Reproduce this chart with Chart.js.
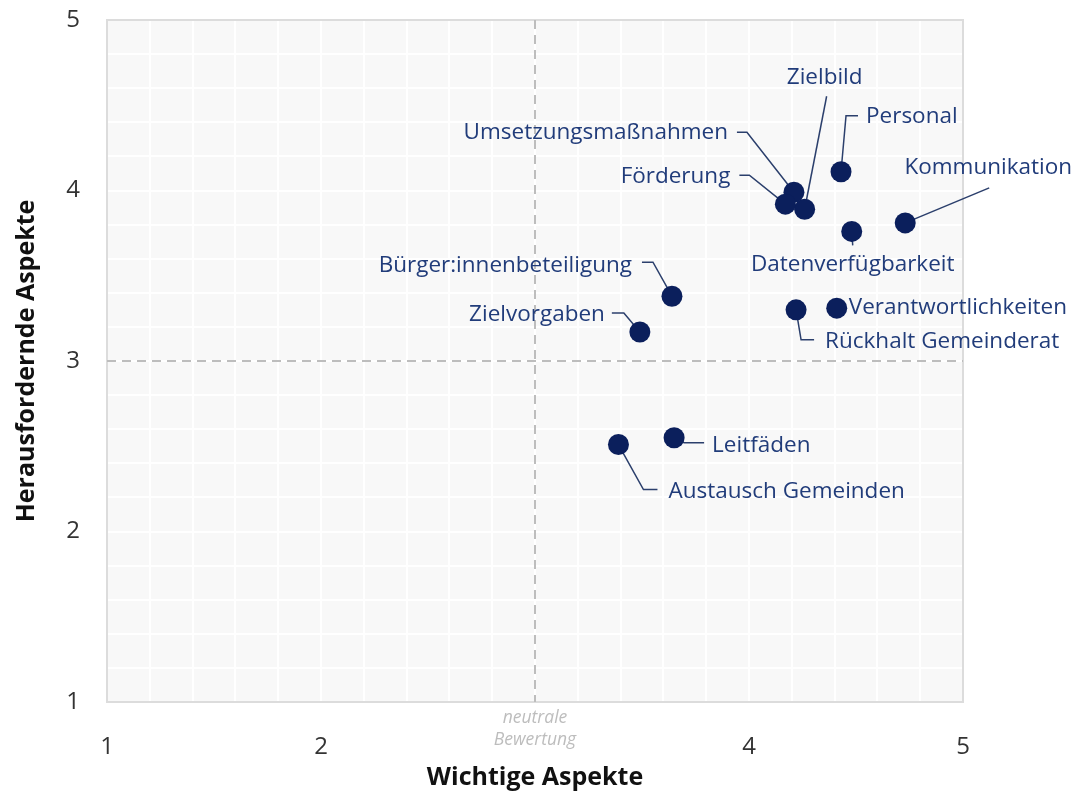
<!DOCTYPE html>
<html><head><meta charset="utf-8">
<script src="https://cdn.jsdelivr.net/npm/chart.js@4/dist/chart.umd.min.js"></script>
<style>html,body{margin:0;padding:0;background:#fff}</style>
</head><body>
<canvas id="c" width="1078" height="795"></canvas>
<script>
// ---- data ----
const aspects = ['Zielbild','Personal','Umsetzungsmaßnahmen','Förderung','Kommunikation','Datenverfügbarkeit','Bürger:innenbeteiligung','Zielvorgaben','Verantwortlichkeiten','Rückhalt Gemeinderat','Leitfäden','Austausch Gemeinden'];
const importance = [4.26, 4.43, 4.21, 4.17, 4.73, 4.48, 3.64, 3.49, 4.41, 4.22, 3.65, 3.39];
const challenge  = [3.89, 4.11, 3.99, 3.92, 3.81, 3.76, 3.38, 3.17, 3.31, 3.30, 2.55, 2.51];
const xTickLabels = {1:'1', 2:'2', 3:'', 4:'4', 5:'5'};
const yTickLabels = {1:'1', 2:'2', 3:'3', 4:'4', 5:'5'};
const neutralValue = 3;
const neutralText = ['neutrale', 'Bewertung'];
const xTitle = 'Wichtige Aspekte';
const yTitle = 'Herausfordernde Aspekte';

// label layout (pixel offsets relative to each point): leader polyline + text anchor
const labelLayout = [
  {lead:[[0,0],[22,-113]], t:[20,-132], a:'center'},
  {lead:[[0,0],[5,-56],[17,-56]], t:[25,-55], a:'left'},
  {lead:[[0,0],[-47,-60],[-57,-60]], t:[-66,-60], a:'right'},
  {lead:[[0,0],[-36,-29],[-46,-29]], t:[-55,-28], a:'right'},
  {lead:[[0,0],[84,-35]], t:[83,-55], a:'center'},
  {lead:[[0,0],[1,14]], t:[1,33], a:'center'},
  {lead:[[0,0],[-19,-34],[-30,-34]], t:[-40,-31], a:'right'},
  {lead:[[0,0],[-16,-19],[-28,-19]], t:[-35,-17], a:'right'},
  {lead:null, t:[12,-1], a:'left'},
  {lead:[[0,0],[5,30],[18,30]], t:[29,32], a:'left'},
  {lead:[[0,0],[10,5],[30,5]], t:[38,8], a:'left'},
  {lead:[[0,0],[25,45],[39,45]], t:[50,47], a:'left'}
];

const FONT = "'Open Sans', 'Noto Sans', sans-serif";
const POINT_COLOR = '#0b1f5c';
const LABEL_COLOR = '#213c7a';
const LEADER_COLOR = '#2b3f6c';

const isInt = v => Math.abs(v - Math.round(v)) < 1e-6;

const decor = {
  id: 'decor',
  beforeDraw(chart) {
    const {ctx, chartArea: a} = chart;
    ctx.save();
    ctx.fillStyle = '#f8f8f8';
    ctx.fillRect(a.left, a.top, a.right - a.left, a.bottom - a.top);
    ctx.restore();
  },
  beforeDatasetsDraw(chart) {
    const {ctx, chartArea: a, scales: {x, y}} = chart;
    ctx.save();
    ctx.strokeStyle = '#dcdcdc';
    ctx.lineWidth = 2;
    ctx.strokeRect(a.left, a.top, a.right - a.left, a.bottom - a.top);
    ctx.strokeStyle = '#bdbdbd';
    ctx.lineWidth = 2;
    ctx.setLineDash([9, 6]);
    const nx = x.getPixelForValue(neutralValue);
    const ny = y.getPixelForValue(neutralValue);
    ctx.beginPath(); ctx.moveTo(nx, a.top); ctx.lineTo(nx, a.bottom); ctx.stroke();
    ctx.beginPath(); ctx.moveTo(a.left, ny); ctx.lineTo(a.right, ny); ctx.stroke();
    ctx.setLineDash([]);
    ctx.fillStyle = '#bdbdbd';
    ctx.font = 'italic 17.5px ' + FONT;
    ctx.textAlign = 'center';
    ctx.textBaseline = 'middle';
    ctx.fillText(neutralText[0], nx, a.bottom + 16);
    ctx.fillText(neutralText[1], nx, a.bottom + 38);
    const meta = chart.getDatasetMeta(0);
    ctx.strokeStyle = LEADER_COLOR;
    ctx.lineWidth = 1.5;
    meta.data.forEach((pt, i) => {
      const L = labelLayout[i];
      if (!L || !L.lead) return;
      ctx.beginPath();
      L.lead.forEach(([dx, dy], k) => {
        if (k === 0) ctx.moveTo(pt.x + dx, pt.y + dy); else ctx.lineTo(pt.x + dx, pt.y + dy);
      });
      ctx.stroke();
    });
    ctx.restore();
  },
  afterDatasetsDraw(chart) {
    const {ctx} = chart;
    const meta = chart.getDatasetMeta(0);
    ctx.save();
    ctx.fillStyle = LABEL_COLOR;
    ctx.font = '22.5px ' + FONT;
    ctx.textBaseline = 'middle';
    meta.data.forEach((pt, i) => {
      const L = labelLayout[i];
      ctx.textAlign = L.a;
      ctx.fillText(aspects[i], pt.x + L.t[0], pt.y + L.t[1]);
    });
    ctx.restore();
  }
};

new Chart(document.getElementById('c'), {
  type: 'scatter',
  data: {
    datasets: [{
      data: importance.map((v, i) => ({x: v, y: challenge[i]})),
      backgroundColor: POINT_COLOR,
      borderWidth: 0,
      pointRadius: 10.5,
      pointHoverRadius: 10.5
    }]
  },
  plugins: [decor],
  options: {
    responsive: false,
    animation: false,
    events: [],
    layout: {padding: {top: 20, right: 115, bottom: 0, left: 0}},
    plugins: {legend: {display: false}, tooltip: {enabled: false}},
    scales: {
      x: {
        type: 'linear', min: 1, max: 5,
        afterFit: s => { s.height = 93; s.paddingLeft = 0; s.paddingRight = 0; },
        border: {display: false},
        grid: {color: '#ffffff', lineWidth: 2, drawTicks: false},
        ticks: {
          stepSize: 0.2, autoSkip: false, maxRotation: 0, minRotation: 0, padding: 31,
          color: '#333', font: {family: FONT, size: 24},
          callback: v => isInt(v) ? (xTickLabels[Math.round(v)] ?? '') : ''
        },
        title: {display: true, text: xTitle, color: '#111', font: {family: FONT, size: 25, weight: 'bold'}, padding: {top: 0, bottom: 2}}
      },
      y: {
        type: 'linear', min: 1, max: 5,
        afterFit: s => { s.width = 107; s.paddingTop = 0; s.paddingBottom = 0; },
        border: {display: false},
        grid: {color: '#ffffff', lineWidth: 2, drawTicks: false},
        ticks: {
          stepSize: 0.2, autoSkip: false, padding: 27,
          color: '#333', font: {family: FONT, size: 24},
          callback: v => isInt(v) ? (yTickLabels[Math.round(v)] ?? '') : ''
        },
        title: {display: true, text: yTitle, color: '#111', font: {family: FONT, size: 25, weight: 'bold'}, padding: {top: 12, bottom: 0}}
      }
    }
  }
});
</script>
</body></html>
